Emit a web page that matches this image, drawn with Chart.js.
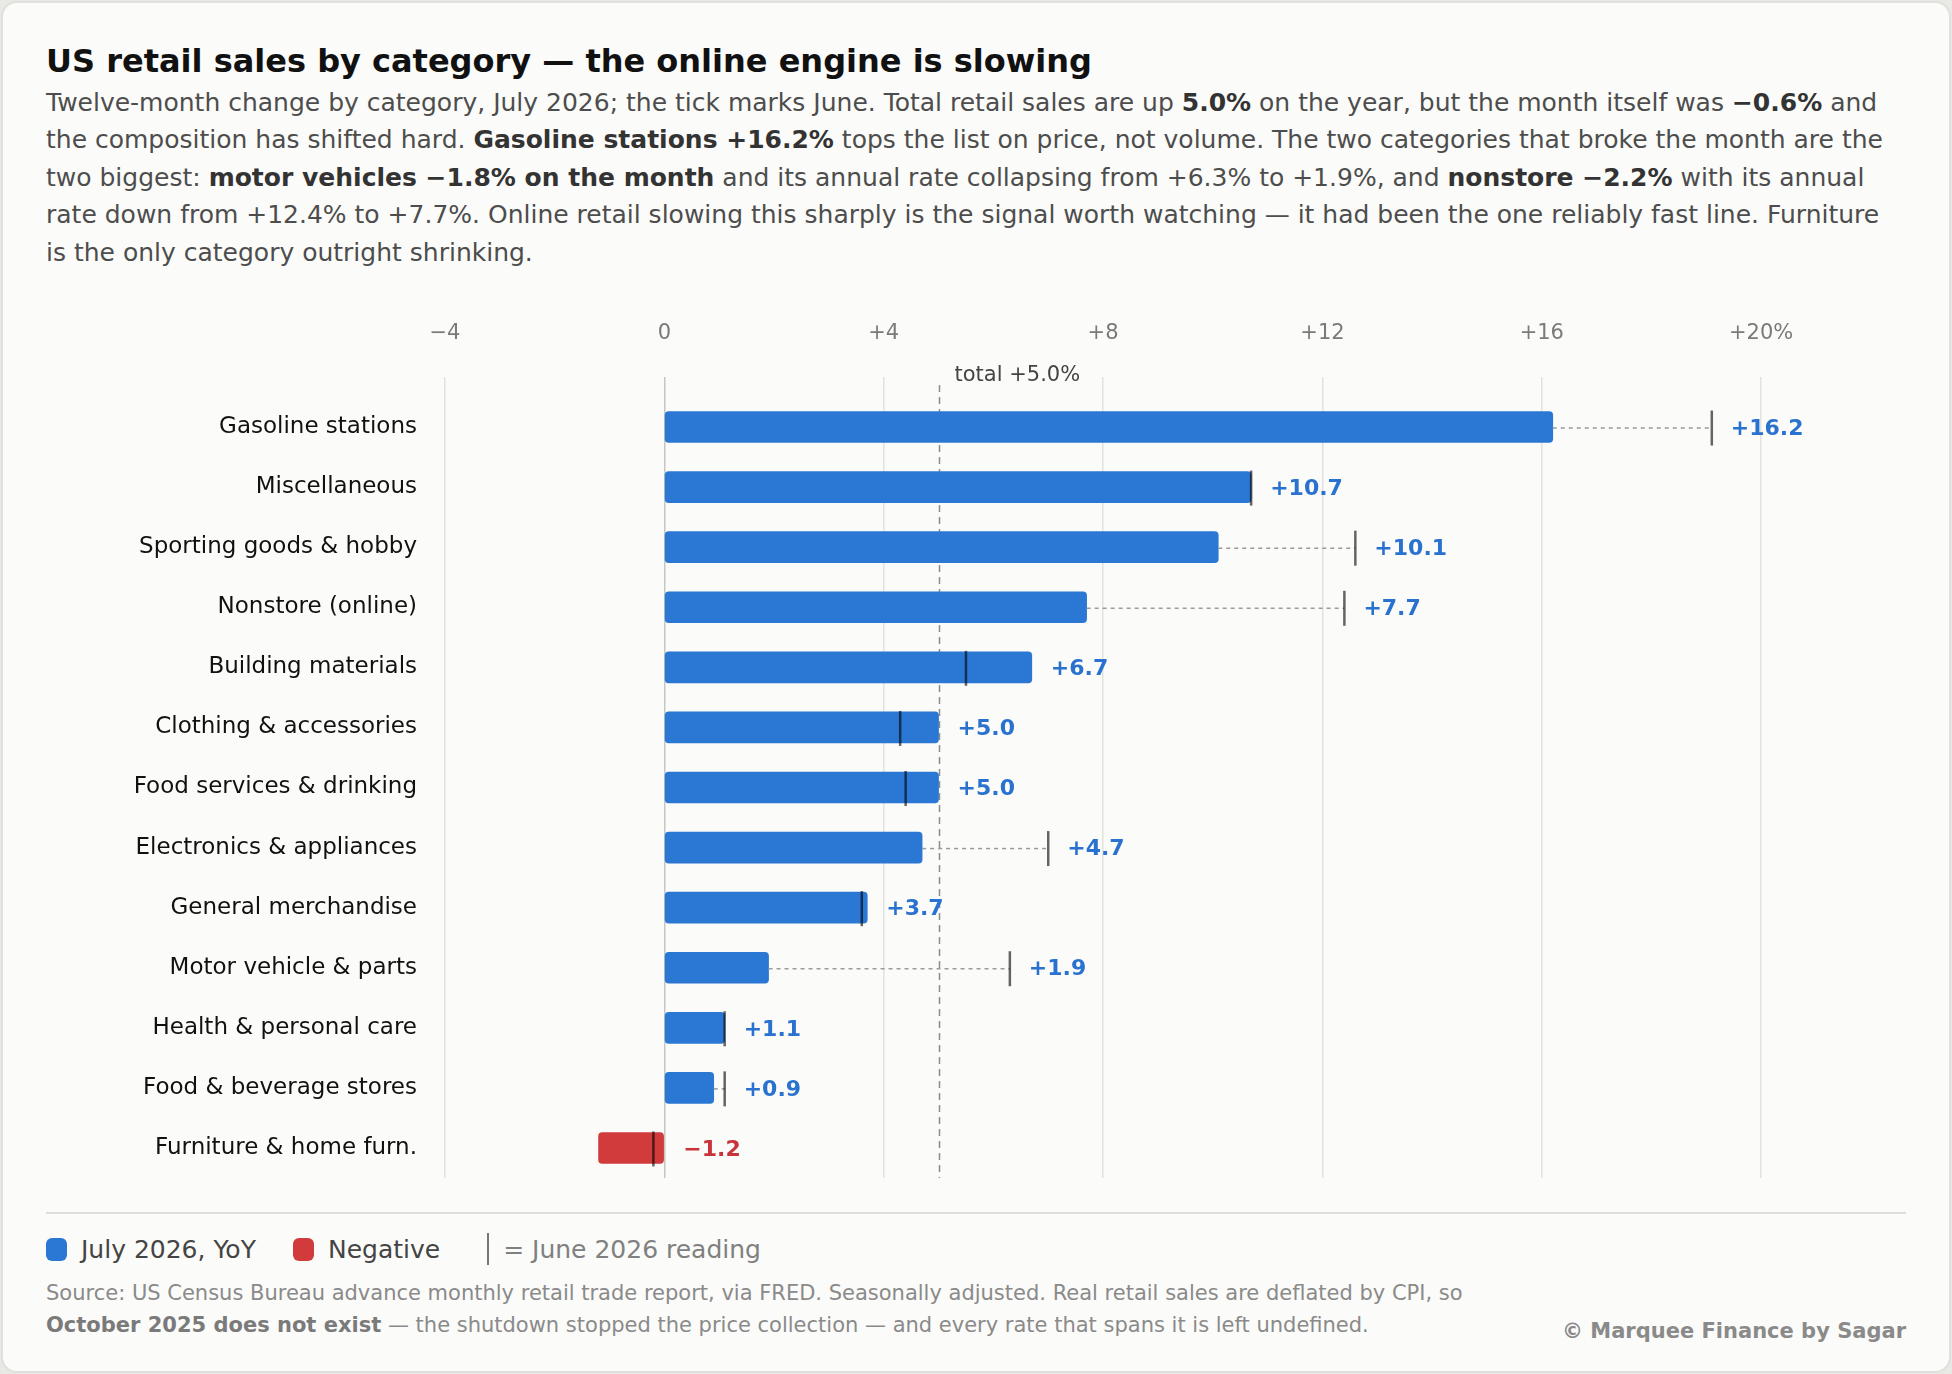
<!DOCTYPE html>
<html>
<head>
<meta charset="utf-8">
<script src="https://cdn.jsdelivr.net/npm/chart.js@4.4.1/dist/chart.umd.min.js"></script>
<style>
  html, body { margin: 0; padding: 0; }
  body { width: 1952px; height: 1374px; background: #e8e8e5; position: relative; overflow: hidden;
         font-family: 'DejaVu Sans', sans-serif; }
  .card { position: absolute; left: 1px; top: 1px; width: 1950px; height: 1372px; box-sizing: border-box;
          background: #fbfbf9; border: 2px solid #e0e0dc; border-radius: 16px; }
  .title { position: absolute; left: 46px; top: 42px; font-size: 32px; line-height: 1.2; font-weight: bold;
           color: #111; white-space: nowrap; }
  .sub { position: absolute; left: 46px; top: 84px; font-size: 25px; line-height: 37.4px; color: #4d4d4d;
         white-space: nowrap; }
  .sub b { color: #333; }
  #chart { position: absolute; left: 0; top: 300px; }
  .sep { position: absolute; left: 46px; top: 1212px; width: 1860px; height: 2px; background: #deded9; }
  .legend { position: absolute; left: 46px; top: 1234px; height: 30px; display: flex; align-items: center;
            font-size: 25px; color: #444; white-space: nowrap; }
  .sw { width: 21px; height: 23px; border-radius: 6px; display: inline-block; margin-right: 14px; }
  .legend .item { display: flex; align-items: center; margin-right: 37px; }
  .tickkey { width: 2px; height: 32px; background: #777; display: inline-block; margin: 0 14px 0 10px; }
  .legend .muted { color: #808080; }
  .src { position: absolute; left: 46px; top: 1277px; font-size: 21px; line-height: 32px; color: #8a8a8a;
         white-space: nowrap; }
  .src b { color: #7a7a7a; }
  .credit { position: absolute; right: 46px; top: 1316px; font-size: 21px; line-height: 30px; font-weight: bold;
            color: #8a8a8a; white-space: nowrap; }
</style>
</head>
<body>
<div class="card"></div>
<div class="title">US retail sales by category — the online engine is slowing</div>
<div class="sub">
Twelve-month change by category, July 2026; the tick marks June. Total retail sales are up <b>5.0%</b> on the year, but the month itself was <b>−0.6%</b> and<br>
the composition has shifted hard. <b>Gasoline stations +16.2%</b> tops the list on price, not volume. The two categories that broke the month are the<br>
two biggest: <b>motor vehicles −1.8% on the month</b> and its annual rate collapsing from +6.3% to +1.9%, and <b>nonstore −2.2%</b> with its annual<br>
rate down from +12.4% to +7.7%. Online retail slowing this sharply is the signal worth watching — it had been the one reliably fast line. Furniture<br>
is the only category outright shrinking.
</div>

<canvas id="chart" width="1952" height="880"></canvas>

<div class="sep"></div>
<div class="legend">
  <span class="item"><span class="sw" style="background:#2b78d4"></span>July 2026, YoY</span>
  <span class="item"><span class="sw" style="background:#d13b3b"></span>Negative</span>
  <span class="item muted"><span class="tickkey"></span>= June 2026 reading</span>
</div>
<div class="src">
Source: US Census Bureau advance monthly retail trade report, via FRED. Seasonally adjusted. Real retail sales are deflated by CPI, so<br>
<b>October 2025 does not exist</b> — the shutdown stopped the price collection — and every rate that spans it is left undefined.
</div>
<div class="credit">© Marquee Finance by Sagar</div>

<script>
// categorie e valori (crescita annua %, luglio 2026 e giugno 2026)
const categories = [
  'Gasoline stations', 'Miscellaneous', 'Sporting goods & hobby', 'Nonstore (online)',
  'Building materials', 'Clothing & accessories', 'Food services & drinking',
  'Electronics & appliances', 'General merchandise', 'Motor vehicle & parts',
  'Health & personal care', 'Food & beverage stores', 'Furniture & home furn.'
];
const julyYoY = [16.2, 10.7, 10.1, 7.7, 6.7, 5.0, 5.0, 4.7, 3.7, 1.9, 1.1, 0.9, -1.2];
const juneYoY = [19.1, 10.7, 12.6, 12.4, 5.5, 4.3, 4.4, 7.0, 3.6, 6.3, 1.1, 1.1, -0.2];
const totalYoY = 5.0;
const xTickValues = [-4, 0, 4, 8, 12, 16, 20];
const xTickLabels = ['−4', '0', '+4', '+8', '+12', '+16', '+20%'];

const BLUE = '#2b78d4';
const RED = '#d13b3b';
const FONT = "'DejaVu Sans', sans-serif";

Chart.defaults.font.family = FONT;

function fmt(v) {
  return (v < 0 ? '−' : '+') + Math.abs(v).toFixed(1);
}

// linea del totale (sotto le barre)
const totalLine = {
  id: 'totalLine',
  beforeDatasetsDraw(chart) {
    const { ctx, chartArea, scales: { x } } = chart;
    const px = Math.round(x.getPixelForValue(totalYoY)) + 0.5;
    ctx.save();
    ctx.strokeStyle = '#8c8c8c';
    ctx.lineWidth = 1.5;
    ctx.setLineDash([7, 5]);
    ctx.beginPath();
    ctx.moveTo(px, chartArea.top - 12);
    ctx.lineTo(px, chartArea.bottom);
    ctx.stroke();
    ctx.setLineDash([]);
    ctx.fillStyle = '#444';
    ctx.font = '21px ' + FONT;
    ctx.textBaseline = 'middle';
    ctx.fillText('total ' + fmt(totalYoY) + '%', px + 15, chartArea.top - 21);
    ctx.restore();
  }
};

// tacche di giugno, tratteggi e etichette dei valori
const juneMarks = {
  id: 'juneMarks',
  afterDatasetsDraw(chart) {
    const { ctx, scales: { x, y } } = chart;
    ctx.save();
    julyYoY.forEach((v, i) => {
      const cy = y.getPixelForValue(i) + 1;
      const end = Math.max(0, v);
      const xEnd = x.getPixelForValue(end);
      const xJune = x.getPixelForValue(juneYoY[i]);

      // tratteggio solo fuori dalla barra
      if (juneYoY[i] > end) {
        ctx.strokeStyle = '#9a9a9a';
        ctx.lineWidth = 1.5;
        ctx.setLineDash([4, 4]);
        ctx.beginPath();
        ctx.moveTo(xEnd, cy);
        ctx.lineTo(xJune, cy);
        ctx.stroke();
        ctx.setLineDash([]);
      }

      ctx.strokeStyle = 'rgba(0,0,0,0.6)';
      ctx.lineWidth = 2.5;
      ctx.beginPath();
      ctx.moveTo(xJune, cy - 17.5);
      ctx.lineTo(xJune, cy + 17.5);
      ctx.stroke();

      const lx = x.getPixelForValue(Math.max(0, v, juneYoY[i])) + 19;
      ctx.fillStyle = v < 0 ? '#c8343a' : '#2a72cf';
      ctx.font = 'bold 22px ' + FONT;
      ctx.textBaseline = 'middle';
      ctx.textAlign = 'left';
      ctx.fillText(fmt(v), lx, cy + 1);
    });
    ctx.restore();
  }
};

const ctx = document.getElementById('chart').getContext('2d');
const chart = new Chart(ctx, {
  type: 'bar',
  data: {
    labels: categories,
    datasets: [{
      data: julyYoY,
      backgroundColor: julyYoY.map(v => v < 0 ? RED : BLUE),
      barThickness: 31,
      borderRadius: 4,
      borderSkipped: false
    }]
  },
  options: {
    indexAxis: 'y',
    responsive: false,
    animation: false,
    layout: { padding: { top: 0, left: 0, right: 136, bottom: 2 } },
    plugins: {
      legend: { display: false },
      tooltip: { enabled: false }
    },
    scales: {
      x: {
        position: 'top',
        min: -4,
        max: 21,
        afterBuildTicks: s => { s.ticks = xTickValues.map(v => ({ value: v })); },
        afterFit: s => {
          s.height = 97;
          s.paddingLeft = 0; s.paddingRight = 0;
        },
        ticks: {
          callback: (val, i) => xTickLabels[i],
          color: '#7a7a7a',
          font: { size: 21 },
          padding: 31,
          maxRotation: 0
        },
        grid: {
          color: c => (c.tick && c.tick.value === 0) ? '#c6c6c2' : '#e2e2de',
          lineWidth: 1.5,
          tickLength: 20
        },
        border: { display: false }
      },
      y: {
        afterFit: s => {
          s.width = 445;
          s.paddingTop = 0; s.paddingBottom = 0;
        },
        ticks: {
          color: '#111',
          font: { size: 23 },
          padding: 28
        },
        grid: { display: false, drawTicks: false },
        border: { display: false }
      }
    }
  },
  plugins: [totalLine, juneMarks]
});
</script>
</body>
</html>
